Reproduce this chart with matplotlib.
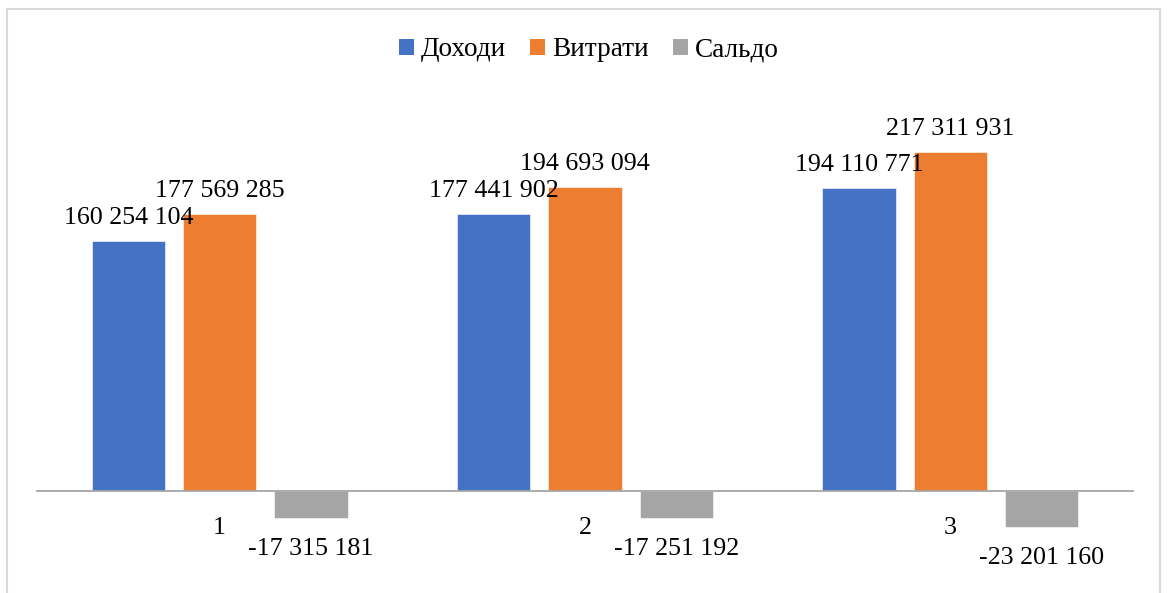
import matplotlib
matplotlib.use("Agg")
import matplotlib.pyplot as plt
from matplotlib.patches import Patch, Rectangle
import numpy as np

plt.rcParams['font.family'] = ['Liberation Serif', 'DejaVu Serif']

categories = ["1", "2", "3"]
series_names = ["Доходи", "Витрати", "Сальдо"]
dohody = [160254104, 177441902, 194110771]
vytraty = [177569285, 194693094, 217311931]
saldo = [-17315181, -17251192, -23201160]
colors = ["#4472C4", "#ED7D31", "#A5A5A5"]


def fmt(v):
    # thousands separated by spaces, like "160 254 104"
    s = "{:,}".format(abs(v)).replace(",", " ")
    return ("-" if v < 0 else "") + s


fig = plt.figure(figsize=(11.68, 5.93), dpi=100)
ax = fig.add_axes([37 / 1168, 1 - 560 / 593, 1096 / 1168, 480 / 593])

x = np.arange(1, len(categories) + 1)
width = 0.2
offsets = [-0.25, 0.0, 0.25]
fs = 18.7

for vals, off, col in zip([dohody, vytraty, saldo], offsets, colors):
    bars = ax.bar(x + off, vals, width, color=col, edgecolor="white", linewidth=0.4, zorder=2)
    for b, v in zip(bars, vals):
        cx = b.get_x() + b.get_width() / 2
        dy = 16.8 if v >= 0 else -22.3
        ax.annotate(fmt(v), (cx, v), xytext=(0, dy), textcoords="offset points",
                    ha="center", va="center", fontsize=fs, color="#000000")

ax.set_xlim(0.5, 3.5)
ax.set_ylim(-69 / 1.56 * 1e6, (480 - 69) / 1.56 * 1e6)

for s in ["top", "right", "left"]:
    ax.spines[s].set_visible(False)
ax.spines["bottom"].set_position(("data", 0))
ax.spines["bottom"].set_color("#A6A6A6")
ax.spines["bottom"].set_linewidth(1.3)
ax.set_yticks([])
ax.set_xticks(x)
ax.set_xticklabels(categories, fontsize=fs)
ax.tick_params(axis="x", length=0, pad=18.5)

handles = [Patch(facecolor=c, edgecolor="none") for c in colors]
fig.legend(handles, series_names, loc="center", bbox_to_anchor=(0.504, 1 - 50 / 593),
           ncol=3, frameon=False, fontsize=19.6, handlelength=0.55, handleheight=0.55,
           handletextpad=0.25, columnspacing=0.9)

# light chart-area frame
fig.add_artist(Rectangle((7 / 1168, -0.02), (1160 - 7) / 1168, 1 - 9 / 593 + 0.02,
                         transform=fig.transFigure, fill=False,
                         edgecolor="#D9D9D9", linewidth=1.5))

fig.savefig("out.png", dpi=100)
